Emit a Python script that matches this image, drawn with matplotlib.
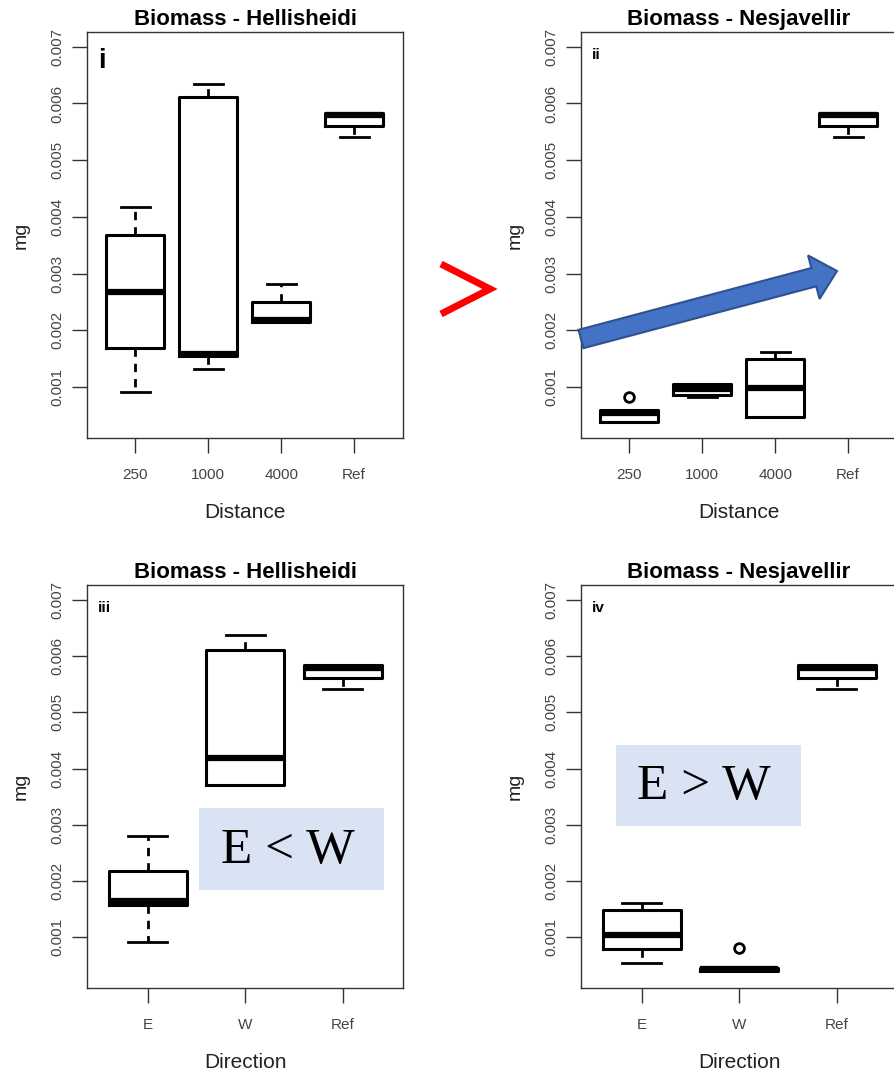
import matplotlib
matplotlib.use("Agg")
import matplotlib.pyplot as plt
from matplotlib.patches import Rectangle, FancyArrow
from matplotlib.lines import Line2D
from matplotlib.transforms import Affine2D

plt.rcParams['font.family'] = ['Liberation Sans', 'DejaVu Sans']

# five number summaries: (whislo, q1, med, q3, whishi)
dist_labels = ['250', '1000', '4000', 'Ref']
dir_labels = ['E', 'W', 'Ref']

hell_dist = [(0.00092, 0.00168, 0.00268, 0.00368, 0.00417),
             (0.00132, 0.00155, 0.00158, 0.00611, 0.00634),
             (0.00214, 0.00214, 0.00218, 0.00249, 0.00281),
             (0.00541, 0.00560, 0.00579, 0.00584, 0.00584)]
hell_dist_out = [[], [], [], []]

nesj_dist = [(0.00039, 0.00039, 0.00054, 0.00059, 0.00059),
             (0.00083, 0.00086, 0.00097, 0.00105, 0.00105),
             (0.000465, 0.000465, 0.00099, 0.00149, 0.00161),
             (0.00541, 0.00560, 0.00579, 0.00584, 0.00584)]
nesj_dist_out = [[0.00082], [], [], []]

hell_dir = [(0.00091, 0.00158, 0.00165, 0.00218, 0.00281),
            (0.00370, 0.00370, 0.00418, 0.00611, 0.00637),
            (0.00541, 0.00560, 0.00579, 0.00584, 0.00584)]
hell_dir_out = [[], [], []]

nesj_dir = [(0.00054, 0.00080, 0.00104, 0.00148, 0.00161),
            (0.00040, 0.00040, 0.00043, 0.000465, 0.000465),
            (0.00541, 0.00560, 0.00579, 0.00584, 0.00584)]
nesj_dir_out = [[], [0.00082], []]

yticks = [0.001, 0.002, 0.003, 0.004, 0.005, 0.006, 0.007]

W, H = 894, 1089
fig = plt.figure(figsize=(W / 100, H / 100), dpi=100)
# pixel coords measured from top left of the picture
pix = Affine2D().scale(1 / 100, -1 / 100).translate(0, H / 100) + fig.dpi_scale_trans


def panel(rect, labels, stats, outs, title, tag, tagsize, xlabel, xlim):
    ax = fig.add_axes(rect)
    bx = []
    for lab, s, o in zip(labels, stats, outs):
        bx.append(dict(label=lab, whislo=s[0], q1=s[1], med=s[2], q3=s[3],
                       whishi=s[4], fliers=o))
    ax.bxp(bx, positions=range(1, len(bx) + 1), widths=0.8, capwidths=0.4,
           boxprops=dict(lw=2.2, color='black'),
           medianprops=dict(lw=4.5, color='black', solid_capstyle='butt'),
           whiskerprops=dict(lw=2, color='black', ls=(0, (3, 2.5))),
           capprops=dict(lw=2, color='black'),
           flierprops=dict(marker='o', mfc='none', mec='black', ms=7, mew=2))
    ax.set_xlim(*xlim)
    ax.set_ylim(0.0001, 0.00726)
    ax.set_yticks(yticks)
    ax.set_yticklabels(['%.3f' % v for v in yticks], rotation=90, va='center')
    ax.tick_params(direction='out', length=10.5, width=1, color='#333333',
                   labelcolor='#444444', labelsize=11)
    ax.tick_params(axis='y', pad=6)
    ax.tick_params(axis='x', pad=11)
    for sp in ax.spines.values():
        sp.set_linewidth(1)
        sp.set_color('#333333')
    ax.set_title(title, fontsize=16, fontweight='bold', pad=5)
    ax.set_xlabel(xlabel, fontsize=15, color='#222222', labelpad=15)
    ax.set_ylabel('mg', fontsize=14, color='#222222', labelpad=15)
    ax.text(0.035, 0.96, tag, transform=ax.transAxes, fontsize=tagsize,
            fontweight='bold', va='top', ha='left')
    return ax


panel([0.0973, 0.5978, 0.3535, 0.3728], dist_labels, hell_dist, hell_dist_out,
      'Biomass - Hellisheidi', 'i', 20, 'Distance', (0.34, 4.67))
panel([0.6499, 0.5978, 0.3535, 0.3728], dist_labels, nesj_dist, nesj_dist_out,
      'Biomass - Nesjavellir', 'ii', 11, 'Distance', (0.34, 4.67))
panel([0.0973, 0.0927, 0.3535, 0.3701], dir_labels, hell_dir, hell_dir_out,
      'Biomass - Hellisheidi', 'iii', 11, 'Direction', (0.376, 3.62))
panel([0.6499, 0.0927, 0.3535, 0.3701], dir_labels, nesj_dir, nesj_dir_out,
      'Biomass - Nesjavellir', 'iv', 11, 'Direction', (0.376, 3.62))

# red "greater than" between the top panels
fig.add_artist(Line2D([441, 490, 441], [264, 289, 314], transform=pix,
                      color='#FF0000', lw=5, solid_joinstyle='miter',
                      solid_capstyle='butt'))

# blue arrow across panel ii
fig.add_artist(FancyArrow(581, 339, 256, -68, width=19, head_width=45,
                          head_length=24, length_includes_head=True,
                          transform=pix, fc='#4472C4', ec='#2F528F', lw=1.5))

# comparison boxes
fig.add_artist(Rectangle((199, 890), 185, -82, transform=pix, fc='#DAE3F3', ec='none'))
fig.text(288, 851, 'E < W', transform=pix, family='Liberation Serif',
         fontsize=37, ha='center', va='center')
fig.add_artist(Rectangle((616, 826), 185, -81, transform=pix, fc='#DAE3F3', ec='none'))
fig.text(704, 787, 'E > W', transform=pix, family='Liberation Serif',
         fontsize=37, ha='center', va='center')

fig.savefig('out.png', dpi=100)
